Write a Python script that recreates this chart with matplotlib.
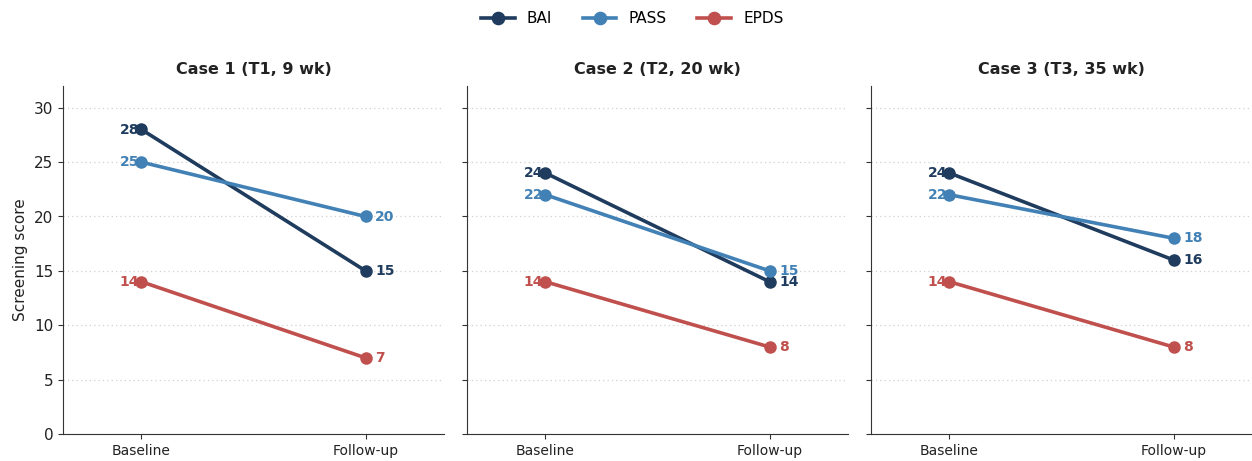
import matplotlib
matplotlib.use("Agg")
import matplotlib.pyplot as plt

timepoints = ["Baseline", "Follow-up"]
cases = ["Case 1 (T1, 9 wk)", "Case 2 (T2, 20 wk)", "Case 3 (T3, 35 wk)"]
measures = ["BAI", "PASS", "EPDS"]
bai = [[28, 15], [24, 14], [24, 16]]
pass_ = [[25, 20], [22, 15], [22, 18]]
epds = [[14, 7], [14, 8], [14, 8]]
colors = {"BAI": "#1f3c5e", "PASS": "#4281b5", "EPDS": "#c0504d"}
series = {"BAI": bai, "PASS": pass_, "EPDS": epds}

fig = plt.figure(figsize=(12.52, 4.61), dpi=100)
W, H = 1252, 461
axes = []
lefts = [63, 467, 871]
pw = 381
for i, lx in enumerate(lefts):
    ax = fig.add_axes([lx / W, 27 / H, pw / W, (434 - 86) / H],
                      sharey=axes[0] if axes else None)
    axes.append(ax)

x = [0, 1]
for i, ax in enumerate(axes):
    for m in measures:
        vals = series[m][i]
        ax.plot(x, vals, color=colors[m], lw=2.6, marker="o", ms=8, label=m, zorder=3)
        ax.annotate(str(vals[0]), (0, vals[0]), xytext=(-1.5, 0), textcoords="offset points",
                    ha="right", va="center", color=colors[m], fontsize=10, fontweight="bold",
                    zorder=2)
        ax.annotate(str(vals[1]), (1, vals[1]), xytext=(7, 0), textcoords="offset points",
                    ha="left", va="center", color=colors[m], fontsize=10, fontweight="bold")
    ax.set_xlim(-0.35, 1.35)
    ax.set_ylim(0, 32)
    ax.set_xticks(x)
    ax.set_xticklabels(timepoints, fontsize=10)
    ax.set_yticks([0, 5, 10, 15, 20, 25, 30])
    ax.set_title(cases[i], fontsize=11.5, fontweight="bold", pad=9, color="#222222")
    ax.grid(axis="y", linestyle=(0, (1, 2.5)), color="#d0d0d0", lw=0.9)
    ax.set_axisbelow(True)
    for s in ["top", "right"]:
        ax.spines[s].set_visible(False)
    for s in ["left", "bottom"]:
        ax.spines[s].set_color("#333333")
    ax.tick_params(colors="#333333", labelcolor="#222222")
    if i > 0:
        ax.tick_params(axis="y", labelleft=False)
    else:
        ax.tick_params(axis="y", labelsize=11)

axes[0].set_ylabel("Screening score", fontsize=11, color="#222222")
handles, labels = axes[0].get_legend_handles_labels()
fig.legend(handles, labels, loc="upper center", bbox_to_anchor=(0.505, 1.005), ncol=3,
           frameon=False, fontsize=11, handlelength=2.2, columnspacing=2.0, markerscale=1.1)
fig.savefig("out.png", dpi=100)
